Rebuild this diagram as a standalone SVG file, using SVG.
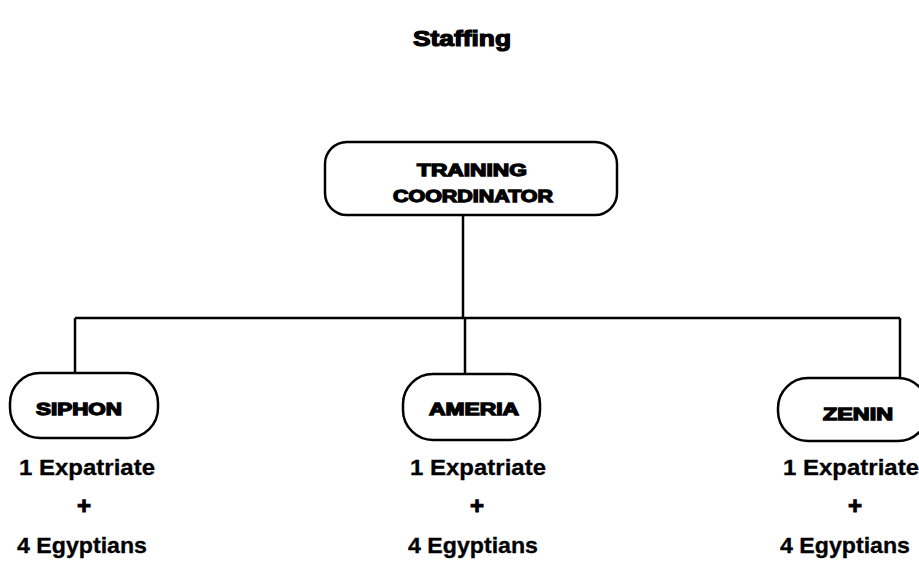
<svg xmlns="http://www.w3.org/2000/svg" width="919" height="587" viewBox="0 0 919 587">
<style>
.box{fill:#fff;stroke:#000;stroke-width:2.5}
.lbl{font-family:"Liberation Sans",Arial,sans-serif;font-weight:bold;font-size:17px;fill:#000;stroke:#000;stroke-width:1.3;text-anchor:middle}
.txt{font-family:"Liberation Sans",Arial,sans-serif;font-weight:bold;font-size:22px;fill:#000;stroke:#000;stroke-width:0.3}
.plus{font-family:"Liberation Sans",Arial,sans-serif;font-weight:bold;font-size:24px;fill:#000;stroke:#000;stroke-width:1;text-anchor:middle}
.ttl{font-family:"Liberation Sans",Arial,sans-serif;font-weight:bold;font-size:22px;fill:#000;stroke:#000;stroke-width:1.2;text-anchor:middle}
.conn{fill:none;stroke:#000;stroke-width:2.5}
</style>
<rect width="919" height="587" fill="#fff"/>
<text class="ttl" x="462" y="46" textLength="98" lengthAdjust="spacingAndGlyphs">Staffing</text>
<g id="connectors">
<path class="conn" d="M463 215 V318"/>
<path class="conn" d="M75 318 H900"/>
<path class="conn" d="M75 318 V373"/>
<path class="conn" d="M465 318 V374"/>
<path class="conn" d="M900 318 V378"/>
</g>
<g id="coordinator">
<rect class="box" x="325" y="142" width="292" height="73" rx="22"/>
<text class="lbl" x="472" y="176" textLength="110" lengthAdjust="spacingAndGlyphs">TRAINING</text>
<text class="lbl" x="473" y="202" textLength="160" lengthAdjust="spacingAndGlyphs">COORDINATOR</text>
</g>
<g id="siphon">
<rect class="box" x="10" y="373" width="148" height="65" rx="30"/>
<text class="lbl" x="79" y="415" textLength="86" lengthAdjust="spacingAndGlyphs">SIPHON</text>
</g>
<g id="ameria">
<rect class="box" x="403" y="374" width="137" height="66" rx="30"/>
<text class="lbl" x="474" y="415" textLength="90" lengthAdjust="spacingAndGlyphs">AMERIA</text>
</g>
<g id="zenin">
<rect class="box" x="778" y="378" width="150" height="63" rx="30"/>
<text class="lbl" x="858" y="420" textLength="70" lengthAdjust="spacingAndGlyphs">ZENIN</text>
</g>
<g id="siphon-staff">
<text class="txt" x="19" y="475" textLength="136" lengthAdjust="spacingAndGlyphs">1 Expatriate</text>
<text class="plus" x="84" y="514">+</text>
<text class="txt" x="17" y="553" textLength="130" lengthAdjust="spacingAndGlyphs">4 Egyptians</text>
</g>
<g id="ameria-staff">
<text class="txt" x="410" y="475" textLength="136" lengthAdjust="spacingAndGlyphs">1 Expatriate</text>
<text class="plus" x="477" y="514">+</text>
<text class="txt" x="408" y="553" textLength="130" lengthAdjust="spacingAndGlyphs">4 Egyptians</text>
</g>
<g id="zenin-staff">
<text class="txt" x="783" y="475" textLength="136" lengthAdjust="spacingAndGlyphs">1 Expatriate</text>
<text class="plus" x="855" y="514">+</text>
<text class="txt" x="780" y="553" textLength="130" lengthAdjust="spacingAndGlyphs">4 Egyptians</text>
</g>
</svg>
